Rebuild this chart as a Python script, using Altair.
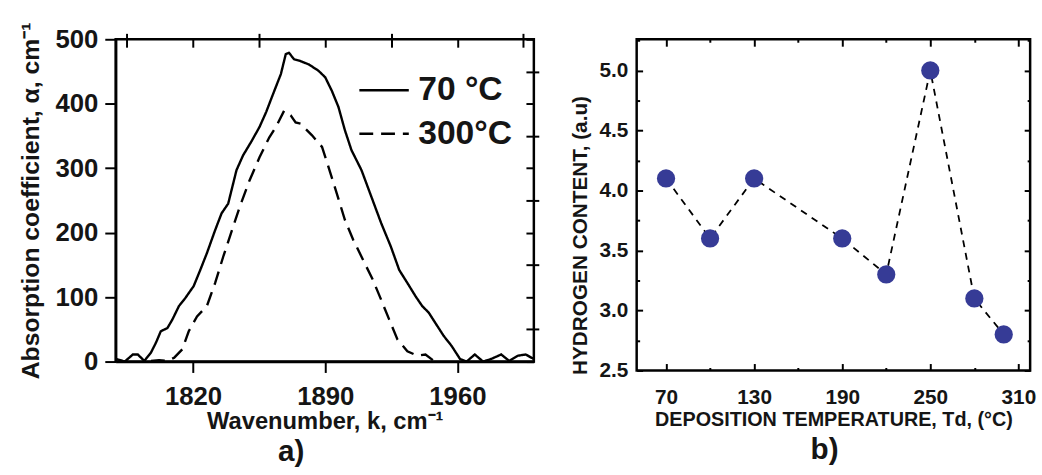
import altair as alt
import pandas as pd

FONT = "Liberation Sans"
INK = "#151515"

# ---- panel a) FTIR absorption spectra ----
series_labels = ["70 °C", "300°C"]
wn_70 = [1779.4, 1783.8, 1788.1, 1790.7, 1794.2, 1797.7, 1800.3, 1802.9, 1806.4, 1809.0,
         1812.5, 1816.0, 1820.3, 1823.8, 1827.3, 1831.7, 1835.1, 1838.6, 1843.0, 1846.5,
         1850.8, 1855.2, 1858.7, 1862.1, 1866.5, 1869.1, 1870.8, 1873.5, 1876.1, 1881.3,
         1886.5, 1890.0, 1893.5, 1897.0, 1900.4, 1903.9, 1909.2, 1914.4, 1919.6, 1924.8,
         1929.2, 1933.5, 1937.9, 1941.4, 1944.8, 1948.3, 1952.7, 1957.0, 1961.4, 1964.9,
         1969.2, 1973.6, 1977.9, 1983.2, 1987.5, 1991.9, 1996.2, 2000.4]
abs_70 = [4, 0, 11, 11, 1, 14, 29, 47, 52, 65,
          86, 99, 117, 142, 168, 204, 230, 245, 297, 320,
          341, 364, 387, 413, 446, 477, 479, 469, 467, 461,
          451, 441, 420, 395, 359, 328, 297, 256, 215, 178,
          142, 122, 101, 86, 76, 60, 40, 24, 4, 0,
          11, 0, 4, 11, 1, 9, 11, 4]
wn_300 = [1797.7, 1802.0, 1806.4, 1810.0, 1814.3, 1817.7, 1822.1, 1827.3, 1831.7, 1836.0,
          1841.2, 1844.7, 1849.9, 1855.2, 1860.4, 1863.9, 1868.2, 1871.7, 1874.3, 1876.9,
          1883.0, 1888.3, 1891.7, 1896.1, 1900.4, 1904.8, 1910.0, 1915.2, 1919.6, 1923.9,
          1928.3, 1933.5, 1938.8, 1943.1, 1947.5, 1951.0]
abs_300 = [1, 2, 1, 6, 19, 47, 70, 86, 122, 163,
           209, 240, 281, 317, 348, 364, 389, 382, 371, 369,
           351, 333, 302, 261, 220, 189, 158, 127, 96, 65,
           34, 16, 9, 11, 1, 0]

wn_major = [1820, 1890, 1960]
wn_minor = [1785, 1855, 1925, 1995]
wn_all = [1785, 1820, 1855, 1890, 1925, 1960, 1995]
abs_major = [0, 100, 200, 300, 400, 500]
abs_minor = [50, 150, 250, 350, 450]
abs_all = [0, 50, 100, 150, 200, 250, 300, 350, 400, 450, 500]

# ---- panel b) hydrogen content ----
temp = [70, 100, 130, 190, 220, 250, 280, 300]
hcont = [4.1, 3.6, 4.1, 3.6, 3.3, 5.0, 3.1, 2.8]
t_major = [70, 130, 190, 250, 310]
t_minor = [100, 160, 220, 280]
h_major = [2.5, 3.0, 3.5, 4.0, 4.5, 5.0]
h_minor = [2.75, 3.25, 3.75, 4.25, 4.75, 5.25]

df_a = pd.concat([
    pd.DataFrame({"k": wn_70, "alpha": abs_70, "series": series_labels[0]}),
    pd.DataFrame({"k": wn_300, "alpha": abs_300, "series": series_labels[1]}),
], ignore_index=True)
df_b = pd.DataFrame({"T": temp, "H": hcont})

bare = dict(labels=False, domain=False, grid=False, tickColor="black", tickWidth=2)
frame = alt.ViewBackground(stroke="black", strokeWidth=2.5, fill="white")

# ---------- left panel ----------
xs_a = alt.Scale(domain=[1779, 2000.5], nice=False, zero=False)
ys_a = alt.Scale(domain=[0, 500], nice=False)

lines_a = alt.Chart(df_a).mark_line(color="black", strokeWidth=2.4).encode(
    x=alt.X("k:Q", scale=xs_a, axis=alt.Axis(
        values=wn_major, format="d", tickSize=11, tickWidth=2, tickColor="black",
        domainColor="black", domainWidth=2.5, grid=False, labelFlush=False,
        labelFont=FONT, labelFontSize=26, labelFontWeight="bold", labelColor=INK,
        labelPadding=11, title="Wavenumber, k, cm⁻¹", titleFont=FONT,
        titleFontSize=24, titleFontWeight="bold", titleColor=INK, titlePadding=1)),
    y=alt.Y("alpha:Q", scale=ys_a, axis=alt.Axis(
        values=abs_major, format="d", tickSize=11, tickWidth=2, tickColor="black",
        domainColor="black", domainWidth=2.5, grid=False, labelFlush=False,
        labelFont=FONT, labelFontSize=26, labelFontWeight="bold", labelColor=INK,
        labelPadding=7, title="Absorption coefficient, α, cm⁻¹", titleFont=FONT,
        titleFontSize=25, titleFontWeight="bold", titleColor=INK, titlePadding=12)),
    strokeDash=alt.StrokeDash("series:N", scale=alt.Scale(
        domain=series_labels, range=[[1, 0], [14, 8]]), legend=alt.Legend(
        title=None, orient="none", legendX=245, legendY=25, padding=0,
        symbolType="stroke", symbolSize=2500, symbolStrokeWidth=2.5,
        symbolStrokeColor="black", labelFont=FONT, labelFontSize=34,
        labelFontWeight="bold", labelColor=INK, labelOffset=8, rowPadding=-8)),
)

minor_a = alt.Chart(df_a).mark_point(opacity=0).encode(
    x=alt.X("k:Q", scale=xs_a, title=None, axis=alt.Axis(values=wn_minor, tickSize=6, **bare)),
    y=alt.Y("alpha:Q", scale=ys_a, title=None, axis=alt.Axis(values=abs_minor, tickSize=5, **bare)),
)
mirror_a = alt.Chart(df_a).mark_point(opacity=0).encode(
    x=alt.X("k:Q", scale=xs_a, title=None, axis=alt.Axis(
        orient="top", values=wn_all, offset=-8, tickSize=8, minExtent=0, **bare)),
    y=alt.Y("alpha:Q", scale=ys_a, title=None, axis=alt.Axis(
        orient="right", values=abs_all, offset=-8, tickSize=8, minExtent=0, **bare)),
)

left = alt.layer(lines_a, minor_a, mirror_a).resolve_axis(
    x="independent", y="independent"
).properties(
    width=423, height=326, view=frame,
    title=alt.TitleParams("a)", orient="bottom", frame="group", anchor="middle",
                          font=FONT, fontSize=30, fontWeight="bold", color=INK,
                          dx=-34, offset=4),
)

# ---------- right panel ----------
xs_b = alt.Scale(domain=[50, 318], nice=False, zero=False)
ys_b = alt.Scale(domain=[2.5, 5.26], nice=False, zero=False)

line_b = alt.Chart(df_b).mark_line(color="black", strokeWidth=1.8, strokeDash=[7, 6]).encode(
    x=alt.X("T:Q", scale=xs_b, axis=alt.Axis(
        values=t_major, format="d", orient="bottom", offset=-7, tickSize=7, tickWidth=2,
        tickColor="black", domain=False, grid=False, labelFlush=False,
        labelFont=FONT, labelFontSize=21, labelFontWeight="bold", labelColor=INK,
        labelPadding=16, title="DEPOSITION TEMPERATURE, Td, (°C)", titleFont=FONT,
        titleFontSize=20, titleFontWeight="bold", titleColor=INK, titlePadding=3)),
    y=alt.Y("H:Q", scale=ys_b, axis=alt.Axis(
        values=h_major, format=".1f", orient="left", offset=-6, tickSize=6,
        tickWidth=2, tickColor="black", domain=False, grid=False, labelFlush=False,
        labelFont=FONT, labelFontSize=21, labelFontWeight="bold", labelColor=INK,
        labelPadding=9, title="HYDROGEN CONTENT, (a.u)", titleFont=FONT,
        titleFontSize=21, titleFontWeight="bold", titleColor=INK, titlePadding=9,
        titleY=198)),
)
pts_b = alt.Chart(df_b).mark_circle(size=340, color="#363b96", opacity=1).encode(
    x=alt.X("T:Q", scale=xs_b, title=None, axis=alt.Axis(
        orient="top", values=t_major, offset=-7, tickSize=7, minExtent=0, **bare)),
    y=alt.Y("H:Q", scale=ys_b, title=None, axis=alt.Axis(
        orient="right", values=h_major, offset=-6, tickSize=6, minExtent=0, **bare)),
)
minor_b = alt.Chart(df_b).mark_point(opacity=0).encode(
    x=alt.X("T:Q", scale=xs_b, title=None, axis=alt.Axis(
        orient="bottom", values=t_minor, offset=-3, tickSize=3, minExtent=0, **bare)),
    y=alt.Y("H:Q", scale=ys_b, title=None, axis=alt.Axis(
        orient="left", values=h_minor, offset=-3, tickSize=3, minExtent=0, **bare)),
)
minor_b2 = alt.Chart(df_b).mark_point(opacity=0).encode(
    x=alt.X("T:Q", scale=xs_b, title=None, axis=alt.Axis(
        orient="top", values=t_minor, offset=-3, tickSize=3, minExtent=0, **bare)),
    y=alt.Y("H:Q", scale=ys_b, title=None, axis=alt.Axis(
        orient="right", values=h_minor, offset=-3, tickSize=3, minExtent=0, **bare)),
)

right = alt.layer(line_b, pts_b, minor_b, minor_b2).resolve_axis(
    x="independent", y="independent"
).properties(
    width=398, height=335, view=frame,
    title=alt.TitleParams("b)", orient="bottom", frame="group", anchor="middle",
                          font=FONT, fontSize=30, fontWeight="bold", color=INK,
                          dx=-9, offset=6),
)

chart = alt.hconcat(left, right, spacing=26).properties(
    padding={"left": 17, "top": 18, "right": 5, "bottom": 2},
    background="white",
).configure_view(stroke="black", strokeWidth=2.5).configure_concat(spacing=26)

chart.save("out.html", embed_options={"renderer": "svg", "actions": False})
